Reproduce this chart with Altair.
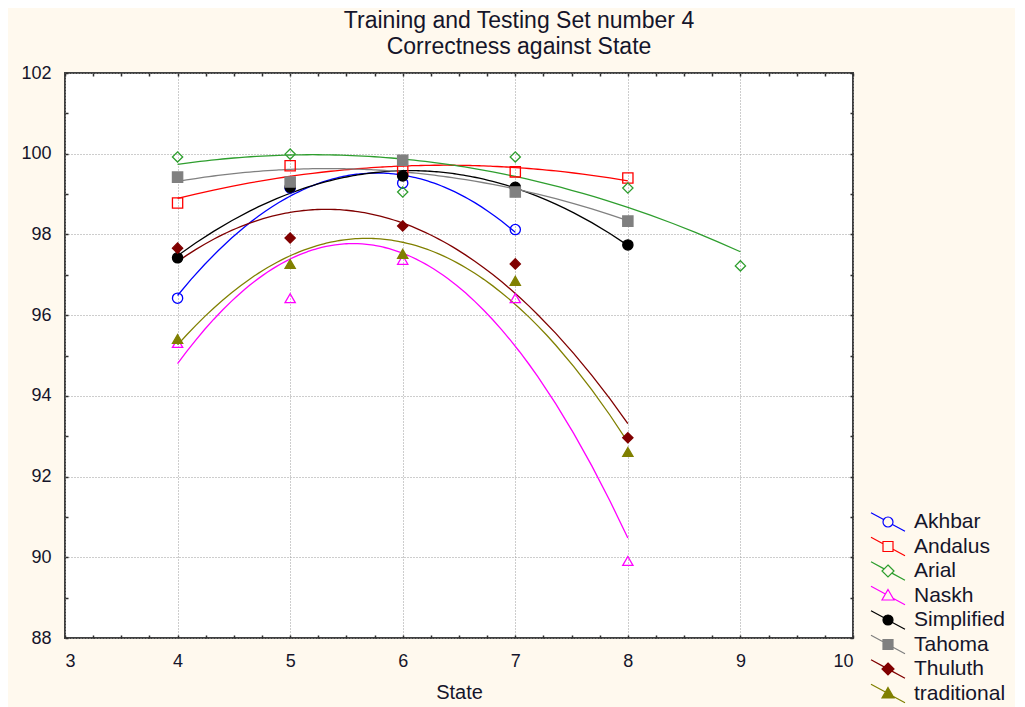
import altair as alt
import pandas as pd

# ---------------- data ----------------
series = ["Akhbar", "Andalus", "Arial", "Naskh", "Simplified", "Tahoma", "Thuluth", "traditional"]

states_akhbar = [4, 5, 6, 7]
states_common = [4, 5, 6, 7, 8]
states_arial = [4, 5, 6, 7, 8, 9]

akhbar = [96.42, 99.15, 99.27, 98.12]
andalus = [98.78, 99.70, 99.58, 99.55, 99.40]
arial = [99.92, 99.99, 99.05, 99.92, 99.15, 97.22]
naskh = [95.31, 96.42, 97.37, 96.42, 89.91]
simplified = [97.42, 99.17, 99.45, 99.17, 97.74]
tahoma = [99.42, 99.30, 99.84, 99.05, 98.33]
thuluth = [97.66, 97.91, 98.21, 97.27, 92.96]
traditional = [95.41, 97.27, 97.52, 96.85, 92.61]

x_ticks = [3, 4, 5, 6, 7, 8, 9, 10]
x_minor = [3 + 0.25 * i for i in range(29)]
y_ticks = [88, 90, 92, 94, 96, 98, 100, 102]
y_minor = list(range(88, 103))

colors = ["#0000FF", "#FF0000", "#2E9E2E", "#FF00FF", "#000000", "#808080", "#800000", "#808000"]
fills = ["transparent", "transparent", "transparent", "transparent", "#000000", "#808080", "#800000", "#808000"]
shapes = ["circle", "square", "diamond", "triangle-up", "circle", "square", "diamond", "triangle-up"]

rows = []
for name, xs, ys in [
    ("Akhbar", states_akhbar, akhbar),
    ("Andalus", states_common, andalus),
    ("Arial", states_arial, arial),
    ("Naskh", states_common, naskh),
    ("Simplified", states_common, simplified),
    ("Tahoma", states_common, tahoma),
    ("Thuluth", states_common, thuluth),
    ("traditional", states_common, traditional),
]:
    for sx, sy in zip(xs, ys):
        rows.append({"Series": name, "State": sx, "Value": sy})
df = pd.DataFrame(rows)


# ---------------- legend symbols: a slanted line with the marker ----------------
def fmt(v):
    return f"{v:.3f}"


def legend_path(shape):
    x0, y0, x1, y1 = -1.7, -0.93, 1.7, 0.93
    k = 0.547
    if shape == "circle":
        r = 0.5
        body = f"M{fmt(r)},0A{fmt(r)},{fmt(r)} 0 1,1 {fmt(-r)},0A{fmt(r)},{fmt(r)} 0 1,1 {fmt(r)},0Z"
        gl, gr = -0.44, 0.44
    elif shape == "square":
        h = 0.5
        body = f"M{fmt(-h)},{fmt(-h)}L{fmt(h)},{fmt(-h)}L{fmt(h)},{fmt(h)}L{fmt(-h)},{fmt(h)}Z"
        gl, gr = -0.5, 0.5
    elif shape == "diamond":
        d = 0.6
        body = f"M0,{fmt(-d)}L{fmt(d)},0L0,{fmt(d)}L{fmt(-d)},0Z"
        gl, gr = -0.388, 0.388
    else:
        body = "M0,-0.6L0.6,0.45L-0.6,0.45Z"
        gl, gr = -0.261, 0.499
    line = (f"M{fmt(x0)},{fmt(y0)}L{fmt(gl)},{fmt(gl * k)}"
            f"M{fmt(gr)},{fmt(gr * k)}L{fmt(x1)},{fmt(y1)}")
    return line + body


legend_shapes = [legend_path(s) for s in shapes]

W, H = 788, 565
FONT = "Liberation Sans"
TXT = "#15152a"

xscale = alt.Scale(domain=[3, 10], nice=False, zero=False)
yscale = alt.Scale(domain=[88, 102], nice=False, zero=False)

# main axes: labels + dotted grid
x_main = alt.X("State:Q", scale=xscale, title="State",
               axis=alt.Axis(orient="bottom", values=x_ticks, format="d", grid=True,
                             gridDash=[1, 2], gridColor="#9a9a9a", gridWidth=1,
                             ticks=False, domain=False, labelPadding=14,
                             labelFontSize=18, labelFont=FONT, labelColor=TXT,
                             titleFontSize=20, titleFont=FONT, titleColor=TXT,
                             titleFontWeight="normal", titlePadding=12))
y_main = alt.Y("Value:Q", scale=yscale, title=None,
               axis=alt.Axis(orient="left", values=y_ticks, format="d", grid=True,
                             gridDash=[1, 2], gridColor="#9a9a9a", gridWidth=1,
                             ticks=False, domain=False, labelPadding=14,
                             labelFontSize=18, labelFont=FONT, labelColor=TXT))


def tick_axis(orient, values, offset):
    return alt.Axis(orient=orient, values=values, offset=offset, labels=False,
                    domain=False, grid=False, ticks=True, tickSize=3,
                    tickColor="#303030", tickWidth=1.5, title=None)


stroke_enc = alt.Stroke("Series:N", scale=alt.Scale(domain=series, range=colors), legend=None)
fill_enc = alt.Fill("Series:N", scale=alt.Scale(domain=series, range=fills), legend=None)
shape_enc = alt.Shape("Series:N", scale=alt.Scale(domain=series, range=shapes), legend=None)

lines = alt.Chart(df).transform_regression(
    "State", "Value", groupby=["Series"], method="poly", order=2
).mark_line(strokeWidth=1.3).encode(
    x=x_main, y=y_main, stroke=stroke_enc, detail="Series:N"
)

points = alt.Chart(df).mark_point(size=105, strokeWidth=1.3, opacity=1).encode(
    x=alt.X("State:Q", scale=xscale, axis=tick_axis("top", x_minor, -H)),
    y=alt.Y("Value:Q", scale=yscale, axis=tick_axis("right", y_minor, -W)),
    stroke=stroke_enc, fill=fill_enc, shape=shape_enc,
)

legend_layer = alt.Chart(df).transform_filter("false").mark_point(
    size=400, strokeWidth=1.2, opacity=1
).encode(
    x=alt.X("State:Q", scale=xscale, axis=tick_axis("bottom", x_minor, -H)),
    y=alt.Y("Value:Q", scale=yscale, axis=tick_axis("left", y_minor, -W)),
    stroke=alt.Stroke("Series:N", scale=alt.Scale(domain=series, range=colors), legend=alt.Legend(title=None)),
    fill=alt.Fill("Series:N", scale=alt.Scale(domain=series, range=fills), legend=alt.Legend(title=None)),
    shape=alt.Shape("Series:N", scale=alt.Scale(domain=series, range=legend_shapes),
                    legend=alt.Legend(title=None)),
)

chart = alt.layer(lines, points, legend_layer).resolve_axis(
    x="independent", y="independent"
).resolve_scale(
    stroke="independent", fill="independent", shape="independent"
).resolve_legend(
    stroke="independent", fill="independent", shape="independent"
).properties(
    width=W, height=H,
    title=alt.TitleParams(["Training and Testing Set number 4", "Correctness against State"],
                          fontSize=23, font=FONT, fontWeight="normal", color=TXT,
                          anchor="middle", dx=60, offset=5, lineHeight=26),
    autosize=alt.AutoSizeParams(type="none"),
    padding={"left": 57, "top": 65, "right": 162, "bottom": 69},
).configure(
    background="#FFF9EE",
).configure_view(
    fill="white", stroke="#404040", strokeWidth=2,
).configure_legend(
    orient="none", legendX=812, legendY=438,
    labelFontSize=21, labelFont=FONT, labelColor=TXT, labelOffset=15,
    symbolSize=400, symbolStrokeWidth=1.2, rowPadding=0.5, padding=0,
    symbolType="circle",
)

chart.save("out.html", embed_options={"renderer": "svg", "actions": False})
